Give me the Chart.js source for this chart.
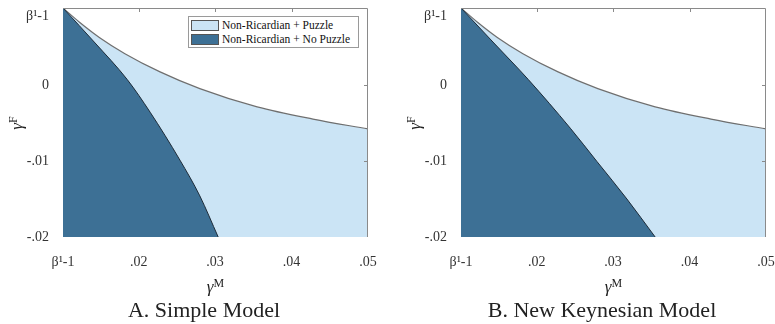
<!DOCTYPE html>
<html>
<head>
<meta charset="utf-8">
<title>Non-Ricardian regions</title>
<script src="https://cdn.jsdelivr.net/npm/chart.js@4.4.0/dist/chart.umd.min.js"></script>
<style>
  body { margin: 0; background: #fff; width: 775px; height: 324px; overflow: hidden; font-family: "Liberation Serif", "Times New Roman", serif; color: #222; }
  .panel { position: absolute; top: 0; width: 378px; height: 324px; }
  .panel canvas { position: absolute; left: 0; top: 0; }
  .xtitle { position: absolute; left: 0; top: 278px; width: 431px; text-align: center; font-size: 17px; line-height: 17px; }
  .ytitle { position: absolute; left: -3px; top: 113px; width: 40px; height: 20px; text-align: center; font-size: 17px; line-height: 20px; transform: rotate(-90deg); }
  .xtitle i, .ytitle i { font-style: italic; }
  .sup { position: relative; top: -5px; font-size: 12px; }
  .caption { position: absolute; left: 0; top: 299px; width: 408px; text-align: center; font-size: 22px; line-height: 22px; }
  .legend { position: absolute; left: 188px; top: 16px; width: 169px; padding: 1px 0; border: 1px solid #9a9a9a; background: #fff; font-size: 11.5px; color: #111; }
  .legend div { height: 14px; line-height: 14px; white-space: nowrap; }
  .legend span.box { display: inline-block; width: 28px; height: 11px; margin: 0 3px 0 2px; vertical-align: -2px; border: 1px solid #555; box-sizing: border-box; }
</style>
</head>
<body>

<div class="panel" style="left:0">
  <canvas id="simple" width="378" height="324"></canvas>
  <div class="ytitle"><i>γ</i><span class="sup">F</span></div>
  <div class="xtitle"><i>γ</i><span class="sup">M</span></div>
  <div class="caption">A. Simple Model</div>
  <div class="legend" id="legend"></div>
</div>

<div class="panel" style="left:398px">
  <canvas id="keynes" width="378" height="324"></canvas>
  <div class="ytitle"><i>γ</i><span class="sup">F</span></div>
  <div class="xtitle"><i>γ</i><span class="sup">M</span></div>
  <div class="caption">B. New Keynesian Model</div>
</div>

<script>
// axis ticks (β^-1 - 1 with β = .99 sits at about .0101)
const xTickVals = [0.0101, 0.02, 0.03, 0.04, 0.05];
const xTickLabels = ["β¹-1", ".02", ".03", ".04", ".05"];
const yTickVals = [-0.02, -0.01, 0, 0.0101];
// empty first line drops the top label a little below the corner
const yTickLabels = ["-.02", "-.01", "0", ["", "β¹-1"]];

const seriesLabels = ["Non-Ricardian + Puzzle", "Non-Ricardian + No Puzzle"];
const lightBlue = "#cbe4f5";
const darkBlue = "#3d7095";

// upper edge of the non-Ricardian region (same in both models)
const edgeX = [0.0101, 0.0123, 0.0149, 0.0182, 0.0228, 0.0280, 0.0355, 0.0428, 0.0500];
const edgeY = [0.0101, 0.0082, 0.0062, 0.0041, 0.0017, -0.0005, -0.0029, -0.0045, -0.0058];

// puzzle / no puzzle boundary, simple model
const simpleX = [0.0101, 0.0143, 0.0185, 0.0215, 0.0254, 0.0280, 0.0304];
const simpleY = [0.0101, 0.0055, 0.0007, -0.0036, -0.0099, -0.0146, -0.0200];

// puzzle / no puzzle boundary, new keynesian model
const keynesX = [0.0101, 0.0144, 0.0189, 0.0244, 0.0279, 0.0318, 0.0355];
const keynesY = [0.0101, 0.0055, 0.0007, -0.0057, -0.0101, -0.0150, -0.0200];

function toPoints(xs, ys) {
  return xs.map((x, i) => ({ x: x, y: ys[i] }));
}

// box on top and right with inward tick marks, like a matlab axis
const frame = {
  id: "frame",
  afterDatasetsDraw(chart) {
    const { ctx, chartArea: a, scales } = chart;
    ctx.save();
    ctx.strokeStyle = "#8a8a8a";
    ctx.lineWidth = 1;
    ctx.beginPath();
    ctx.moveTo(a.left, a.top + 0.5);
    ctx.lineTo(a.right - 0.5, a.top + 0.5);
    ctx.lineTo(a.right - 0.5, a.bottom);
    xTickVals.slice(1, -1).forEach((v) => {
      const px = Math.round(scales.x.getPixelForValue(v)) + 0.5;
      ctx.moveTo(px, a.top);
      ctx.lineTo(px, a.top + 4);
    });
    yTickVals.slice(1, -1).forEach((v) => {
      const py = Math.round(scales.y.getPixelForValue(v)) + 0.5;
      ctx.moveTo(a.right, py);
      ctx.lineTo(a.right - 4, py);
    });
    ctx.stroke();
    ctx.restore();
  },
};

const tickFont = { family: "Liberation Serif", size: 14 };

function makeChart(id, bx, by) {
  return new Chart(id, {
    type: "scatter",
    data: {
      datasets: [
        {
          label: seriesLabels[0],
          data: toPoints(edgeX, edgeY),
          showLine: true,
          cubicInterpolationMode: "monotone",
          fill: "start",
          backgroundColor: lightBlue,
          borderColor: "#6f6f6f",
          borderWidth: 1.2,
          pointRadius: 0,
          order: 2,
        },
        {
          label: seriesLabels[1],
          data: toPoints(bx, by),
          showLine: true,
          cubicInterpolationMode: "monotone",
          fill: "start",
          backgroundColor: darkBlue,
          borderColor: "#1d2b38",
          borderWidth: 1,
          pointRadius: 0,
          order: 1,
        },
      ],
    },
    options: {
      responsive: false,
      animation: false,
      layout: { padding: { top: 8, right: 10, bottom: 0, left: 0 } },
      plugins: { legend: { display: false }, tooltip: { enabled: false } },
      scales: {
        x: {
          type: "linear",
          min: 0.0101,
          max: 0.05,
          grid: { display: false },
          border: { display: false },
          afterBuildTicks: (s) => { s.ticks = xTickVals.map((v) => ({ value: v })); },
          // fixed axis box so the plot area lines up in both panels
          afterFit: (s) => { s.height = 87; s.paddingLeft = 0; s.paddingRight = 0; },
          ticks: {
            autoSkip: false,
            maxRotation: 0,
            padding: 9,
            color: "#333",
            font: tickFont,
            callback: (v, i) => xTickLabels[i],
          },
        },
        y: {
          type: "linear",
          min: -0.02,
          max: 0.0101,
          grid: { display: false },
          border: { display: false },
          afterBuildTicks: (s) => { s.ticks = yTickVals.map((v) => ({ value: v })); },
          afterFit: (s) => { s.width = 63; s.paddingTop = 0; s.paddingBottom = 0; },
          ticks: {
            autoSkip: false,
            padding: 6,
            color: "#333",
            font: tickFont,
            callback: (v, i) => yTickLabels[i],
          },
        },
      },
    },
    plugins: [frame],
  });
}

const simpleChart = makeChart("simple", simpleX, simpleY);
makeChart("keynes", keynesX, keynesY);

// html legend built from the datasets of the simple model
const legendEl = document.getElementById("legend");
simpleChart.data.datasets.forEach((ds) => {
  const row = document.createElement("div");
  row.innerHTML = '<span class="box" style="background:' + ds.backgroundColor + '"></span>' + ds.label;
  legendEl.appendChild(row);
});
</script>
</body>
</html>
